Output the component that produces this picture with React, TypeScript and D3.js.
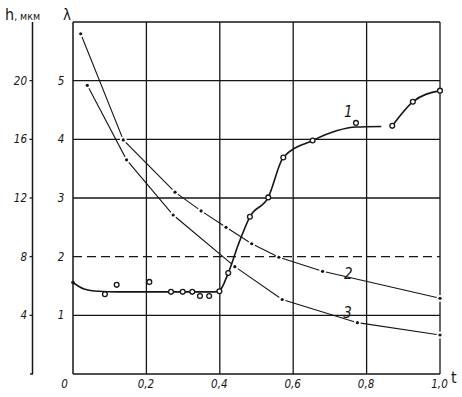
import React from 'react';
import * as d3 from 'd3';

// values
const tTicks = [0.2, 0.4, 0.6, 0.8, 1.0];
const tLabels = ['0,2', '0,4', '0,6', '0,8', '1,0'];
const lambdaTicks = [1, 2, 3, 4, 5];
const gridSolid = [1, 3, 4, 5];
const gridDashed = [2];
const hTicks = [4, 8, 12, 16, 20];

// curve 1: measured points (open circles) and the drawn fit
const c1T = [0.087, 0.119, 0.208, 0.267, 0.299, 0.325, 0.346, 0.371, 0.399, 0.423, 0.482, 0.532, 0.573, 0.653, 0.771, 0.87, 0.926, 1.0];
const c1L = [1.36, 1.52, 1.57, 1.4, 1.4, 1.4, 1.33, 1.33, 1.41, 1.72, 2.68, 3.01, 3.69, 3.98, 4.28, 4.23, 4.64, 4.83];
const fitAT = [0, 0.03, 0.07, 0.12, 0.2, 0.3, 0.385, 0.399, 0.423, 0.45, 0.482, 0.532, 0.573, 0.653, 0.72, 0.771, 0.84];
const fitAL = [1.56, 1.45, 1.41, 1.4, 1.4, 1.4, 1.4, 1.42, 1.72, 2.2, 2.68, 3.01, 3.69, 3.98, 4.15, 4.21, 4.22];
const fitBT = [0.87, 0.926, 1.0];
const fitBL = [4.23, 4.64, 4.83];

// curve 2 and curve 3 (dots)
const c2T = [0.021, 0.137, 0.278, 0.349, 0.417, 0.487, 0.561, 0.68, 1.0];
const c2L = [5.8, 3.99, 3.1, 2.78, 2.5, 2.22, 1.99, 1.75, 1.29];
const c3T = [0.039, 0.146, 0.273, 0.441, 0.57, 0.775, 1.0];
const c3L = [4.92, 3.65, 2.71, 1.83, 1.27, 0.875, 0.665];

const W = 462;
const H = 397;
const ink = '#161616';
const font = '"Liberation Sans Narrow", "DejaVu Sans Condensed", "Liberation Sans", sans-serif';

const x = d3.scaleLinear().domain([0, 1]).range([73, 440]);
const y = d3.scaleLinear().domain([0, 6]).range([374, 22]);
const yH = d3.scaleLinear().domain([0, 24]).range([374, 22]);

const zip = (a: number[], b: number[]) => a.map((v, i) => [v, b[i]] as [number, number]);

const line = d3.line<[number, number]>()
  .x(d => x(d[0]))
  .y(d => y(d[1]))
  .curve(d3.curveMonotoneX);

const straight = d3.line<[number, number]>()
  .x(d => x(d[0]))
  .y(d => y(d[1]));

export default function App() {
  const c1 = zip(c1T, c1L);
  const c2 = zip(c2T, c2L);
  const c3 = zip(c3T, c3L);

  return (
    <svg width={W} height={H} style={{ position: 'absolute', left: 0, top: 0, background: '#fff' }}
      fontFamily={font} fill={ink}>
      <rect width={W} height={H} fill="#fff" />

      {/* grid */}
      {tTicks.map(t => (
        <line key={'v' + t} x1={x(t)} x2={x(t)} y1={y(0)} y2={y(6)} stroke={ink} strokeWidth={1.3} />
      ))}
      {gridSolid.map(v => (
        <line key={'h' + v} x1={x(0)} x2={x(1)} y1={y(v)} y2={y(v)} stroke={ink} strokeWidth={1.3} />
      ))}
      {gridDashed.map(v => (
        <line key={'d' + v} x1={x(0)} x2={x(1)} y1={y(v)} y2={y(v)} stroke={ink} strokeWidth={1.3} strokeDasharray="9,5" />
      ))}
      <line x1={x(0)} x2={x(1)} y1={y(6)} y2={y(6)} stroke={ink} strokeWidth={1.3} />
      <line x1={x(0)} x2={x(0)} y1={y(0)} y2={y(6)} stroke={ink} strokeWidth={1.5} />
      <line x1={x(0)} x2={x(1)} y1={y(0)} y2={y(0)} stroke={ink} strokeWidth={1.5} />

      {/* h axis */}
      <line x1={32.5} x2={32.5} y1={yH(0)} y2={yH(24)} stroke={ink} strokeWidth={1.5} />
      <line x1={30} x2={33} y1={yH(0)} y2={yH(0)} stroke={ink} strokeWidth={1.4} />
      {hTicks.map(h => (
        <g key={'ht' + h}>
          <line x1={29.5} x2={32.5} y1={yH(h)} y2={yH(h)} stroke={ink} strokeWidth={1.2} />
          <text x={27} y={yH(h) + 4} fontSize={11.5} textAnchor="end" fontStyle="italic">{h}</text>
        </g>
      ))}
      {lambdaTicks.map(v => (
        <text key={'lt' + v} x={61} y={y(v) + 4} fontSize={11.5} textAnchor="middle" fontStyle="italic">{v}</text>
      ))}
      <text x={64.5} y={388} fontSize={11.5} textAnchor="middle" fontStyle="italic">0</text>
      {tTicks.map((t, i) => (
        <text key={'tl' + t} x={x(t) - 0.5} y={388} fontSize={11.5} textAnchor="middle" fontStyle="italic">{tLabels[i]}</text>
      ))}
      <text x={451} y={383} fontSize={16}>t</text>
      <text x={5} y={20} fontSize={16}>h<tspan fontSize={10.5}>, мкм</tspan></text>
      <text x={63} y={20} fontSize={15}>λ</text>

      {/* curve 2 */}
      <path d={straight(c2) ?? ''} fill="none" stroke={ink} strokeWidth={1.1} />
      {c2.map((d, i) => (
        <g key={'c2' + i}>
          <circle cx={x(d[0])} cy={y(d[1])} r={3.4} fill="#fff" />
          <circle cx={x(d[0])} cy={y(d[1])} r={1.6} fill={ink} />
        </g>
      ))}

      {/* curve 3 */}
      <path d={straight(c3) ?? ''} fill="none" stroke={ink} strokeWidth={1.1} />
      {c3.map((d, i) => (
        <g key={'c3' + i}>
          <circle cx={x(d[0])} cy={y(d[1])} r={3.4} fill="#fff" />
          <circle cx={x(d[0])} cy={y(d[1])} r={1.6} fill={ink} />
        </g>
      ))}

      {/* curve 1 */}
      <path d={line(zip(fitAT, fitAL)) ?? ''} fill="none" stroke={ink} strokeWidth={1.6} />
      <path d={line(zip(fitBT, fitBL)) ?? ''} fill="none" stroke={ink} strokeWidth={1.6} />
      <circle cx={x(fitAT[0])} cy={y(fitAL[0])} r={1.8} fill={ink} />
      {c1.map((d, i) => (
        <circle key={'c1' + i} cx={x(d[0])} cy={y(d[1])} r={2.4} fill="#fff" stroke={ink} strokeWidth={1.3} />
      ))}

      {/* curve labels */}
      <text x={x(0.75)} y={y(4.38)} fontSize={15} textAnchor="middle" fontStyle="italic">1</text>
      <text x={x(0.75)} y={y(1.62)} fontSize={15} textAnchor="middle" fontStyle="italic">2</text>
      <text x={x(0.748)} y={y(0.95)} fontSize={15} textAnchor="middle" fontStyle="italic">3</text>
    </svg>
  );
}
